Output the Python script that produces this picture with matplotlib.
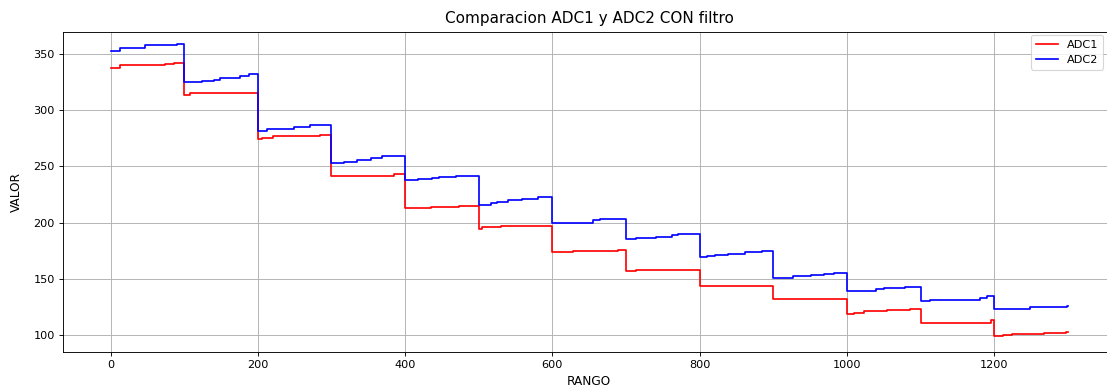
import matplotlib
matplotlib.use("Agg")
import matplotlib.pyplot as plt

# Filtered readings of both converters: sample index where each level starts, and level value
adc1_x = [0, 13, 74, 86,
          100, 108,
          200, 205, 221, 285,
          300, 385,
          400, 435, 473,
          500, 505, 530,
          600, 628, 689,
          700, 714,
          800,
          900,
          1000, 1010, 1023, 1054, 1086,
          1100, 1195,
          1200, 1212, 1224, 1268, 1297,
          1300]
adc1_y = [337, 340, 341, 342,
          313, 315,
          274, 275.5, 276.5, 277.5,
          241.5, 243.5,
          213, 214, 215,
          194.5, 196, 197,
          173.5, 174.5, 175.5,
          157, 158,
          143.5,
          132,
          119, 120, 121, 122, 123.5,
          111, 113,
          99, 100, 101, 102, 103,
          103]

adc2_x = [0, 13, 47, 90,
          100, 124, 140, 149, 176, 188,
          200, 212, 249, 271,
          300, 317, 335, 353, 368,
          400, 417, 437, 446, 469,
          500, 516, 525, 539, 559, 580,
          600, 655, 664,
          700, 714, 741, 750, 762, 771,
          800, 810, 821, 839, 862, 885,
          900, 905, 926, 951, 969, 982,
          1000, 1007, 1039, 1050, 1079,
          1100, 1113, 1181, 1190,
          1200, 1213, 1249, 1299,
          1300]
adc2_y = [352.5, 355.5, 358, 359,
          324.5, 325.5, 327, 328.5, 330, 332,
          281, 283, 284.5, 286.5,
          253, 254, 255.5, 257, 259,
          237.5, 238.5, 239.5, 240.5, 241.5,
          216, 217, 218.5, 220, 221, 222.5,
          200, 202, 203,
          185, 186, 187, 187.5, 188.5, 189.5,
          169.5, 170.5, 171.5, 172, 173.5, 174.5,
          150.5, 151, 152.5, 153, 154.5, 155.5,
          139, 139.5, 141, 141.5, 142.5,
          130, 131.5, 133, 134.5,
          123, 123.5, 124.5, 125.5,
          125.5]

x_ticks = [0, 200, 400, 600, 800, 1000, 1200]
y_ticks = [100, 150, 200, 250, 300, 350]

DPI = 81
fig = plt.figure(figsize=(1107 / DPI, 387 / DPI), dpi=DPI)
ax = fig.add_axes([0.0566, 0.0912, 0.9514, 0.8269])

ax.step(adc1_x, adc1_y, where="post", color="red", label="ADC1")
ax.step(adc2_x, adc2_y, where="post", color="blue", label="ADC2")

ax.set_xlim(-65, 1365)
ax.set_ylim(85.2, 369.6)
ax.set_xticks(x_ticks)
ax.set_yticks(y_ticks)
ax.grid(True)

ax.set_title("Comparacion ADC1 y ADC2 CON filtro", fontsize=13.6, pad=8)
ax.set_xlabel("RANGO", fontsize=10.8, labelpad=5)
ax.set_ylabel("VALOR", fontsize=10.8, labelpad=9)

ax.legend(loc="upper right", bbox_to_anchor=(1103 / 1107, 1 - 35 / 387),
          bbox_transform=fig.transFigure, borderaxespad=0)

fig.savefig("out.png", dpi=DPI)
